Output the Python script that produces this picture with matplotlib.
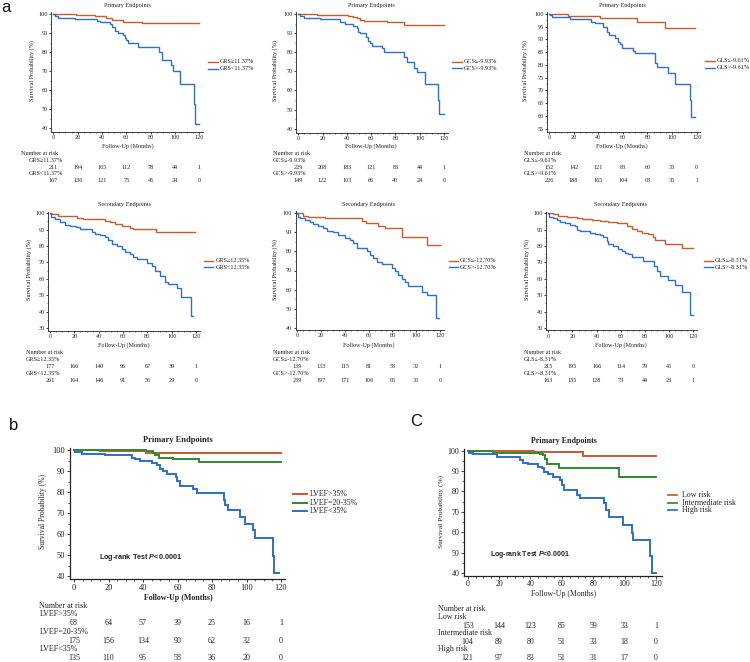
import matplotlib
matplotlib.use('Agg')
import matplotlib.pyplot as plt
from matplotlib.lines import Line2D
from matplotlib.ticker import MultipleLocator
import matplotlib.transforms as mtransforms

plt.rcParams['font.family'] = ['Liberation Serif', 'DejaVu Serif']
plt.rcParams['mathtext.fontset'] = 'custom'
plt.rcParams['mathtext.it'] = 'Liberation Sans:italic:bold'
plt.rcParams['mathtext.rm'] = 'Liberation Sans:bold'

# ---------------- data ----------------
months = [0, 20, 40, 60, 80, 100, 120]

# a1: GRS primary
a1_hi_t = [0, 19, 34, 43, 48, 57, 73]
a1_hi_s = [100, 99.5, 99, 98, 97, 96, 95.1]
a1_hi_end = 120
a1_lo_t = [0, 1.4, 4, 18, 35.6, 38, 46.5, 48, 51, 53, 57.5, 59, 60, 61.6, 70, 87, 89, 96.4, 98, 104, 115.8, 116.4]
a1_lo_s = [100, 98.9, 98, 97.5, 96.5, 96, 95, 93, 91, 90, 89, 87.5, 86.5, 85, 82.5, 80, 76, 73, 70, 63.3, 53, 42]
a1_lo_end = 120
a1_labels = ['GRS≥11.37%', 'GRS<11.37%']
a1_risk_hi = [211, 194, 165, 112, 78, 44, 1]
a1_risk_lo = [167, 136, 121, 75, 45, 24, 0]

# a2: GCS primary
a2_hi_t = [0, 15, 41, 45, 48, 51, 54, 73, 87]
a2_hi_s = [100, 99.5, 99.2, 98.5, 98, 97, 96.5, 95.6, 94.2]
a2_hi_end = 120
a2_lo_t = [0, 1.5, 5, 18, 34.5, 38.5, 45, 48, 49.5, 51, 56, 57.7, 59, 60.4, 68.7, 70.6, 87, 89.3, 95.6, 97.5, 104.4, 115.4, 116.2]
a2_lo_s = [100, 99, 98, 97.3, 96, 94.8, 93.9, 92.5, 90.7, 89.9, 88.1, 86, 84.6, 83.4, 82, 80.3, 77.5, 75, 72, 69.5, 63.5, 55, 47.5]
a2_lo_end = 120
a2_labels = ['GCS≤-9.93%', 'GCS>-9.93%']
a2_risk_hi = [229, 208, 183, 121, 83, 44, 1]
a2_risk_lo = [149, 122, 103, 66, 40, 24, 0]

# a3: GLS primary
a3_hi_t = [0, 15.2, 41.5, 71.3, 94.3]
a3_hi_s = [100, 99.3, 98.3, 97, 94.4]
a3_hi_end = 119
a3_lo_t = [0, 0.5, 2.5, 17, 34, 37.4, 44, 47, 49, 53.7, 56.4, 57.7, 59, 68.6, 70, 86.2, 87.5, 97, 102.4, 114.6, 115.2]
a3_lo_s = [100, 99.5, 98.7, 98.2, 97, 96.3, 95, 93.1, 91.8, 90.4, 89.1, 88.1, 86.5, 85.6, 84.6, 80.9, 79.3, 77, 72.5, 66.2, 59.7]
a3_lo_end = 119
a3_labels = ['GLS≤-9.61%', 'GLS>-9.61%']
a3_risk_hi = [152, 142, 121, 83, 60, 33, 0]
a3_risk_lo = [226, 188, 165, 104, 63, 35, 1]

# m1: GRS secondary
m1_hi_t = [0, 2, 6.8, 22, 27.4, 45, 49, 53.4, 59, 65.8, 68, 87]
m1_hi_s = [100, 99.4, 98.3, 97.3, 96.3, 95.2, 94.4, 93.3, 92.3, 91.3, 90.6, 88.8]
m1_hi_end = 119
m1_lo_t = [0, 0.5, 4, 8.2, 12.3, 16.4, 21.4, 24.7, 34.2, 37, 41, 45.2, 48, 50.7, 55, 59, 61.6, 65.8, 68.5,
           71.2, 79.5, 83.6, 86.3, 90.4, 94.5, 97.3, 104, 108, 115.6]
m1_lo_s = [100, 97.5, 96.5, 94.8, 93.1, 92.3, 91.5, 90.2, 88.5, 87.5, 86.5, 85.4, 83.8, 81.3, 80.2, 78.1, 76.5, 75, 73.5,
           71.9, 69.8, 67.7, 64.6, 61.5, 58.3, 56.9, 54.2, 49, 37.5]
m1_lo_end = 117.5
m1_labels = ['GRS≥12.35%', 'GRS<12.35%']
m1_risk_hi = [177, 166, 140, 96, 67, 39, 1]
m1_risk_lo = [201, 164, 146, 91, 56, 29, 0]

# m2: GCS secondary
m2_hi_t = [0, 5, 9.2, 23.5, 54, 58, 68, 73.7, 87.7, 108.8]
m2_hi_s = [100, 98.7, 97.8, 97.3, 96, 94.9, 93.6, 92.2, 87.8, 83.3]
m2_hi_end = 120
m2_lo_t = [0, 0.3, 2.2, 6.4, 10.7, 13.5, 17.7, 21.3, 25.2, 30.3, 34.5, 40, 44.3, 47, 50, 58.3, 61, 64, 66.7, 71,
           79.3, 82, 85, 87.7, 90.5, 93.4, 104.6, 108.8, 116.3]
m2_lo_s = [100, 98.2, 97.3, 96.4, 95.5, 94.5, 93.3, 92.2, 90.9, 90, 88.7, 87.3, 86, 84.5, 81.8, 80, 78.2, 76.4, 74.5, 73.3,
           71.5, 70, 67.8, 65.5, 64.2, 61.8, 58.8, 57, 45]
m2_lo_end = 119.5
m2_labels = ['GCS≤-12.70%', 'GCS>-12.70%']
m2_risk_hi = [139, 133, 115, 81, 58, 32, 1]
m2_risk_lo = [239, 197, 171, 106, 65, 36, 0]

# m3: GLS secondary
m3_hi_t = [0, 3.6, 8.3, 15.2, 23.4, 27.6, 35.9, 42.8, 49.7, 56.6, 64.8, 69, 73.1, 77.2, 82.8, 86.9, 88.3, 96.6, 110.3]
m3_hi_s = [100, 99.4, 98.5, 97.9, 97.3, 96.5, 95.8, 95.2, 94.4, 93.8, 92.3, 90.6, 89.2, 88.1, 87.1, 85.4, 83.8, 81.3, 78.5]
m3_hi_end = 120
m3_lo_t = [0, 0.3, 4, 6.9, 9.7, 13.8, 17.9, 22, 23.4, 26.2, 34.5, 38.6, 42.8, 45.5, 48.3, 49.7, 53.8, 57.9, 60.7,
           63.4, 66.2, 69, 78.6, 87.7, 89.7, 92.4, 99.3, 104.8, 110.3, 117.2, 117.6]
m3_lo_s = [100, 97.5, 96.9, 95.8, 94.8, 93.8, 92.7, 92.1, 90, 89.2, 88.1, 87.1, 86.5, 85.4, 83.3, 81.3, 79.8, 78.1, 77.1,
           76, 75, 73.3, 70.8, 67.7, 64.6, 61.9, 59.4, 56.3, 52.1, 45, 37.6]
m3_lo_end = 120
m3_labels = ['GLS≤-8.31%', 'GLS>-8.31%']
m3_risk_hi = [215, 195, 166, 114, 79, 45, 0]
m3_risk_lo = [163, 135, 128, 73, 44, 23, 1]

# b: LVEF
b_hi_t = [0, 15, 42]
b_hi_s = [100, 99.7, 98.4]
b_hi_end = 120
b_mid_t = [0, 42, 46, 47, 49.5, 57.6, 72.7]
b_mid_s = [100, 99.5, 98.7, 97.4, 96.3, 95.5, 94.3]
b_mid_end = 120
b_lo_t = [0, 0.6, 4.4, 18, 33.4, 35.4, 38.3, 45, 48, 49.9, 51.8, 53.7, 58.9, 59.9, 61.4, 69.2, 71.1, 87, 87.7, 89.5,
          96.2, 99.1, 104, 104.9, 115.6, 116.1]
b_lo_s = [100, 99.2, 98.2, 97.4, 96.3, 95.5, 94.7, 93.6, 92.7, 91.1, 90, 88.7, 87.2, 85.2, 82.8, 81.2, 79.3, 76.4, 74, 71.3,
          68.1, 64.9, 61.7, 58, 49.3, 41.6]
b_lo_end = 119
b_labels = ['LVEF>35%', 'LVEF=20-35%', 'LVEF<35%']
b_risk_hi = [68, 64, 57, 39, 25, 16, 1]
b_risk_mid = [175, 156, 134, 90, 62, 32, 0]
b_risk_lo = [135, 110, 95, 58, 36, 20, 0]

# c: risk groups
c_low_t = [0, 42.5, 73.7]
c_low_s = [100, 99.5, 97.6]
c_low_end = 120
c_int_t = [0, 16.4, 46, 48.2, 49.3, 50.3, 58.2, 96.6]
c_int_s = [100, 99, 98.4, 97.9, 95.8, 93.5, 91.7, 87.3]
c_int_end = 120
c_high_t = [0, 0.6, 3.6, 18.5, 33.3, 35.5, 38.7, 45, 47.2, 48.6, 51.4, 54.2, 58.8, 59.9, 61.4, 69.9, 71.6, 86.9, 88.1,
            90.3, 99.2, 104.9, 105.6, 116.2, 117.2]
c_high_s = [100, 99, 98.2, 96.7, 95.4, 94.1, 93.3, 92.2, 91.4, 89.7, 88.4, 87, 85.6, 83.2, 80.8, 78.3, 76.7, 74.2, 71,
            67.4, 63.6, 59.5, 56.3, 48.1, 40]
c_high_end = 120
c_labels = ['Low risk', 'Intermediate risk', 'High risk']
c_risk_low = [153, 144, 123, 85, 59, 33, 1]
c_risk_int = [104, 89, 80, 51, 33, 18, 0]
c_risk_high = [121, 97, 83, 51, 31, 17, 0]

# ---------------- drawing ----------------
W, H = 750, 662
fig = plt.figure(figsize=(7.5, 6.62), dpi=100)

ORANGE = '#C65A30'
BLUE = '#2F6FC6'
GREEN = '#2E8B2E'
INK = '#222222'


def fx(px):
    return px / W


def fy(py):
    return 1 - py / H


def make_axes(x0, x120, ya_px, ya_val, yb_px, yb_val, xlim, ylim):
    ppm = (x120 - x0) / 120.0
    left = x0 + xlim[0] * ppm
    width = (xlim[1] - xlim[0]) * ppm
    ppu = (yb_px - ya_px) / (ya_val - yb_val)
    top = ya_px - (ylim[1] - ya_val) * ppu
    height = (ylim[1] - ylim[0]) * ppu
    ax = fig.add_axes([left / W, 1 - (top + height) / H, width / W, height / H])
    ax.set_xlim(*xlim)
    ax.set_ylim(*ylim)
    return ax


def style(ax, yticks, yminor, fs, big=False):
    for s in ['top', 'right']:
        ax.spines[s].set_visible(False)
    for s in ['left', 'bottom']:
        ax.spines[s].set_linewidth(0.9 if big else 0.6)
        ax.spines[s].set_color(INK)
    ax.set_xticks(months)
    ax.set_yticks(yticks)
    ax.xaxis.set_minor_locator(MultipleLocator(5))
    ax.yaxis.set_minor_locator(MultipleLocator(yminor))
    L = 2.2 if big else 1.6
    ax.tick_params(which='major', direction='out', length=L, width=0.6, labelsize=fs,
                   pad=0.8 if big else 0.6, colors=INK)
    ax.tick_params(which='minor', direction='out', length=L * 0.55, width=0.5, colors=INK)
    ax.tick_params(axis='y', which='major', pad=1.2 if big else 0.9)
    ax.patch.set_alpha(0)


def km(ax, t, s, end, color, lw):
    x = list(t) + [end]
    y = list(s) + [s[-1]]
    ax.step(x, y, where='post', color=color, lw=lw, solid_joinstyle='miter')


def legend(labels, colors, x1, x2, xt, ys, fs, lw):
    for lab, col, y in zip(labels, colors, ys):
        fig.add_artist(Line2D([fx(x1), fx(x2)], [fy(y), fy(y)], color=col, lw=lw,
                              transform=fig.transFigure))
        fig.text(fx(xt), fy(y), lab, fontsize=fs, va='center', ha='left', color=INK)


def risk_table(ax, xh, yh, xl, rows, fs):
    fig.text(fx(xh), fy(yh), 'Number at risk', fontsize=fs, va='center', ha='left', color=INK)
    tr = mtransforms.blended_transform_factory(ax.transData, fig.transFigure)
    for lab, ylab, vals, yv in rows:
        fig.text(fx(xl), fy(ylab), lab, fontsize=fs, va='center', ha='left', color=INK)
        for m, v in zip(months, vals):
            ax.text(m, fy(yv), str(v), transform=tr, ha='center', va='center',
                    fontsize=fs, clip_on=False, color=INK)


def labels_small(ax_cx, title_y, xl_y, yl_x, yl_cy, title, fs):
    fig.text(fx(ax_cx), fy(title_y), title, fontsize=fs, ha='center', va='center', color=INK)
    fig.text(fx(ax_cx), fy(xl_y), 'Follow-Up (Months)', fontsize=fs, ha='center', va='center', color=INK)
    fig.text(fx(yl_x), fy(yl_cy), 'Survival Probability (%)', fontsize=fs, ha='center', va='center',
             rotation=90, color=INK)


FS_A = 4.4
LW_A = 1.0

# ---- a1 ----
ax = make_axes(53.3, 199.3, 14, 100, 128.3, 40, (-1.5, 123), (38, 101))
style(ax, range(40, 101, 10), 5, FS_A)
km(ax, a1_hi_t, a1_hi_s, a1_hi_end, ORANGE, LW_A)
km(ax, a1_lo_t, a1_lo_s, a1_lo_end, BLUE, LW_A)
labels_small(127.5, 5.7, 145.7, 32.3, 71, 'Primary Endpoints', FS_A)
legend(a1_labels, [ORANGE, BLUE], 208, 218, 220, [61.7, 69.0], FS_A, LW_A)
risk_table(ax, 20.7, 153.3, 29.0, [(a1_labels[0], 160, a1_risk_hi, 167),
                                   (a1_labels[1], 174, a1_risk_lo, 181)], FS_A)

# ---- a2 ----
ax = make_axes(298.3, 444, 14, 100, 128.7, 40, (-1.5, 123), (38, 101))
style(ax, range(40, 101, 10), 5, FS_A)
km(ax, a2_hi_t, a2_hi_s, a2_hi_end, ORANGE, LW_A)
km(ax, a2_lo_t, a2_lo_s, a2_lo_end, BLUE, LW_A)
labels_small(371, 5.7, 145.7, 275, 71, 'Primary Endpoints', FS_A)
legend(a2_labels, [ORANGE, BLUE], 451.7, 461.7, 463.3, [61.7, 68.0], FS_A, LW_A)
risk_table(ax, 272.7, 153.3, 272.7, [(a2_labels[0], 160, a2_risk_hi, 167),
                                     (a2_labels[1], 174, a2_risk_lo, 181)], FS_A)

# ---- a3 ----
ax = make_axes(549, 696.7, 14, 100, 128.7, 55, (-1.5, 123), (53.8, 100.6))
style(ax, range(55, 101, 5), 2.5, FS_A)
km(ax, a3_hi_t, a3_hi_s, a3_hi_end, ORANGE, LW_A)
km(ax, a3_lo_t, a3_lo_s, a3_lo_end, BLUE, LW_A)
labels_small(622, 5.7, 145.7, 525, 71, 'Primary Endpoints', FS_A)
legend(a3_labels, [ORANGE, BLUE], 705, 715, 716.5, [60.7, 67.7], FS_A, LW_A)
risk_table(ax, 524, 153.3, 524, [(a3_labels[0], 160, a3_risk_hi, 167),
                                 (a3_labels[1], 174, a3_risk_lo, 181)], FS_A)

# ---- m1 ----
ax = make_axes(50, 196, 213.3, 100, 311.5, 40, (-1.5, 123), (28.2, 101))
style(ax, range(30, 101, 10), 5, FS_A)
km(ax, m1_hi_t, m1_hi_s, m1_hi_end, ORANGE, LW_A)
km(ax, m1_lo_t, m1_lo_s, m1_lo_end, BLUE, LW_A)
labels_small(124, 204.3, 345, 29.3, 270, 'Secondary Endpoints', FS_A)
legend(m1_labels, [ORANGE, BLUE], 204, 213.3, 216, [260.7, 267.3], FS_A, LW_A)
risk_table(ax, 26, 352.3, 26, [(m1_labels[0], 359.3, m1_risk_hi, 366.3),
                               (m1_labels[1], 373.3, m1_risk_lo, 380.3)], FS_A)

# ---- m2 ----
ax = make_axes(297.3, 440, 213.3, 100, 327.7, 40, (-1.5, 123), (38.7, 101))
style(ax, range(40, 101, 10), 5, FS_A)
km(ax, m2_hi_t, m2_hi_s, m2_hi_end, ORANGE, LW_A)
km(ax, m2_lo_t, m2_lo_s, m2_lo_end, BLUE, LW_A)
labels_small(369, 204.3, 345, 275, 270, 'Secondary Endpoints', FS_A)
legend(m2_labels, [ORANGE, BLUE], 449, 458, 460, [260.7, 267.3], FS_A, LW_A)
risk_table(ax, 272.7, 352.3, 272.7, [(m2_labels[0], 359.3, m2_risk_hi, 366.3),
                                     (m2_labels[1], 373.3, m2_risk_lo, 380.3)], FS_A)

# ---- m3 ----
ax = make_axes(548.3, 693.3, 213.3, 100, 311.5, 40, (-1.5, 123), (28.4, 101))
style(ax, range(30, 101, 10), 5, FS_A)
km(ax, m3_hi_t, m3_hi_s, m3_hi_end, ORANGE, LW_A)
km(ax, m3_lo_t, m3_lo_s, m3_lo_end, BLUE, LW_A)
labels_small(621, 204.3, 345, 526.7, 270, 'Secondary Endpoints', FS_A)
legend(m3_labels, [ORANGE, BLUE], 704, 713, 714.5, [260.7, 267.3], FS_A, LW_A)
risk_table(ax, 524, 352.3, 524, [(m3_labels[0], 359.3, m3_risk_hi, 366.3),
                                 (m3_labels[1], 373.3, m3_risk_lo, 380.3)], FS_A)

# ---- b ----
FS_B = 6.0
LW_B = 1.4
ax = make_axes(74, 281, 450, 100, 576, 40, (-2.3, 122.3), (38.4, 101))
style(ax, range(40, 101, 10), 5, FS_B, big=True)
km(ax, b_hi_t, b_hi_s, b_hi_end, ORANGE, LW_B)
km(ax, b_mid_t, b_mid_s, b_mid_end, GREEN, LW_B)
km(ax, b_lo_t, b_lo_s, b_lo_end, BLUE, LW_B)
fig.text(fx(178), fy(440), 'Primary Endpoints', fontsize=FS_B, fontweight='bold', ha='center', va='center', color=INK)
fig.text(fx(178), fy(598), 'Follow-Up (Months)', fontsize=FS_B - 0.3, fontweight='bold', ha='center', va='center', color=INK)
fig.text(fx(42.7), fy(511.7), 'Survival Probability (%)', fontsize=FS_B - 0.5, ha='center', va='center',
         rotation=90, color=INK)
fig.text(fx(99), fy(557.7), r'Log-rank Test $\mathit{P}$<0.0001', fontsize=5.2, fontweight='bold',
         family=['Liberation Sans', 'DejaVu Sans'], ha='left', va='center', color=INK)
legend(b_labels, [ORANGE, GREEN, BLUE], 293, 306.7, 310, [494.3, 502.7, 510.7], FS_B - 0.3, LW_B)
risk_table(ax, 39.3, 605.7, 39.3, [(b_labels[0], 614, b_risk_hi, 623.3),
                                   (b_labels[1], 631.7, b_risk_mid, 640.7),
                                   (b_labels[2], 649.3, b_risk_lo, 658.3)], FS_B - 0.2)

# ---- c ----
ax = make_axes(467.7, 656, 450.7, 100, 573, 40, (-2.4, 124), (38.4, 101))
style(ax, range(40, 101, 10), 5, FS_B - 0.3, big=True)
km(ax, c_low_t, c_low_s, c_low_end, ORANGE, LW_B)
km(ax, c_int_t, c_int_s, c_int_end, GREEN, LW_B)
km(ax, c_high_t, c_high_s, c_high_end, BLUE, LW_B)
fig.text(fx(564), fy(441), 'Primary Endpoints', fontsize=FS_B - 0.3, fontweight='bold', ha='center', va='center', color=INK)
fig.text(fx(564), fy(594), 'Follow-Up (Months)', fontsize=FS_B - 0.4, ha='center', va='center', color=INK)
fig.text(fx(441), fy(511.7), 'Survival Probability (%)', fontsize=FS_B - 0.7, ha='center', va='center',
         rotation=90, color=INK)
fig.text(fx(490), fy(555), r'Log-rank Test $\mathit{P}$<0.0001', fontsize=5.0, fontweight='bold',
         family=['Liberation Sans', 'DejaVu Sans'], ha='left', va='center', color=INK)
legend(c_labels, [ORANGE, GREEN, BLUE], 667.7, 677.3, 681.7, [495, 502.7, 510.3], FS_B - 0.3, LW_B * 0.9)
risk_table(ax, 438.3, 609.3, 438.3, [(c_labels[0], 617.3, c_risk_low, 625.7),
                                     (c_labels[1], 633.3, c_risk_int, 641.7),
                                     (c_labels[2], 649.3, c_risk_high, 658.3)], FS_B - 0.3)

# panel letters
for lab, x, y in [('a', 1, 8), ('b', 9, 425.5), ('C', 410, 421)]:
    fig.text(fx(x), fy(y), lab, fontsize=12, family=['Liberation Sans', 'DejaVu Sans'],
             ha='left', va='center', color='#111111')

fig.savefig('out.png', dpi=100)
